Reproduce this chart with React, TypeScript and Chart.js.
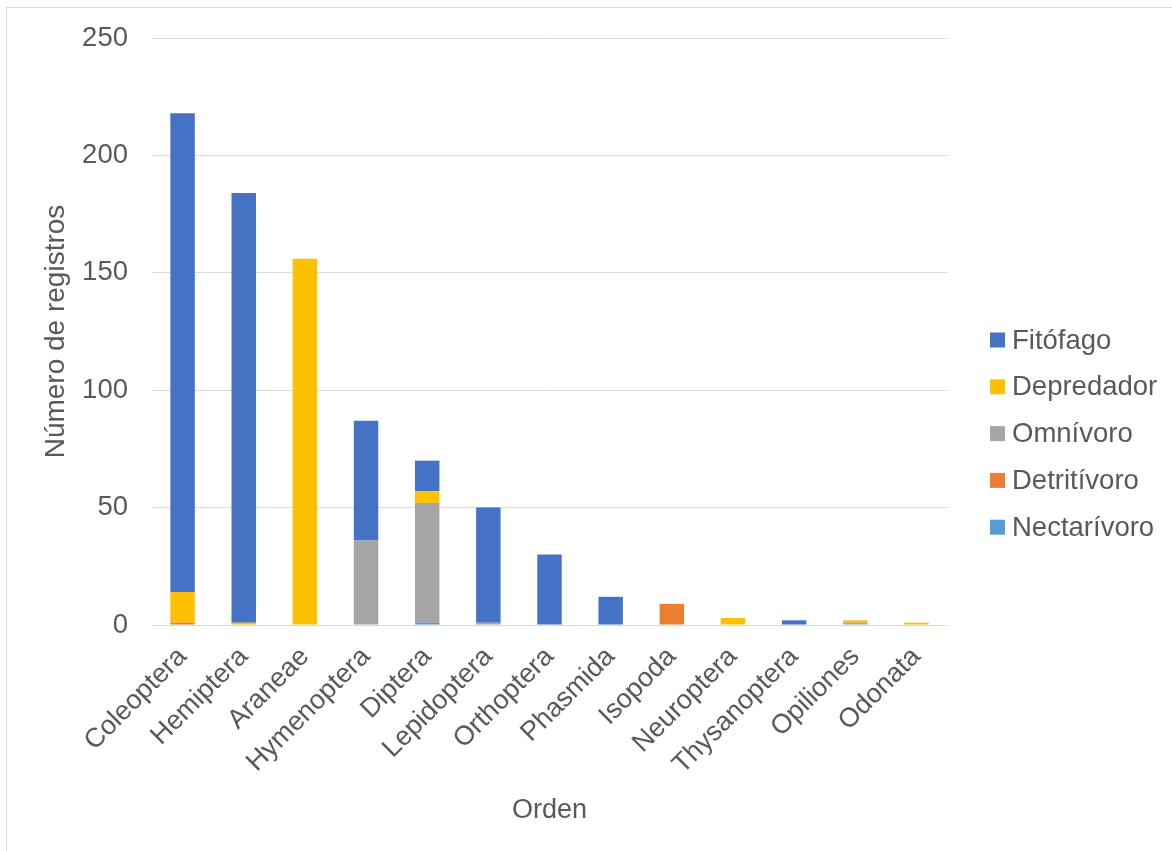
import React, { useEffect, useRef } from "react";
import { Chart, registerables } from "chart.js";

Chart.register(...registerables);

const categories = [
  "Coleoptera", "Hemiptera", "Araneae", "Hymenoptera", "Diptera", "Lepidoptera",
  "Orthoptera", "Phasmida", "Isopoda", "Neuroptera", "Thysanoptera", "Opiliones", "Odonata",
];
const nectarivoro = [0, 0, 0, 0, 1, 0, 0, 0, 0, 0, 0, 0, 0];
const detritivoro = [1, 0, 0, 0, 0, 0, 0, 0, 9, 0, 0, 0, 0];
const omnivoro = [0, 0, 0, 36, 51, 1, 0, 0, 0, 0, 0, 1, 0];
const depredador = [13, 1, 156, 0, 5, 0, 0, 0, 0, 3, 0, 1, 1];
const fitofago = [204, 183, 0, 51, 13, 49, 30, 12, 0, 0, 2, 0, 0];
const yTicks = [0, 50, 100, 150, 200, 250];

const FONT = '"Liberation Sans", Arial, sans-serif';
const TEXT = "#595959";

const legendPlugin = {
  id: "customLegend",
  afterDraw(chart: any) {
    const ctx = chart.ctx;
    const items = chart.data.datasets.slice().reverse();
    ctx.save();
    ctx.font = `27.5px ${FONT}`;
    ctx.textBaseline = "middle";
    ctx.textAlign = "left";
    const startY = 332;
    const step = 46.8;
    items.forEach((ds: any, i: number) => {
      const y = startY + i * step;
      ctx.fillStyle = ds.backgroundColor;
      ctx.fillRect(983, y - 7.5, 15, 15);
      ctx.fillStyle = TEXT;
      ctx.fillText(ds.label, 1005, y + 1);
    });
    ctx.restore();
  },
};

export default function App() {
  const ref = useRef<HTMLCanvasElement>(null);
  useEffect(() => {
    if (!ref.current) return;
    const chart = new Chart(ref.current, {
      type: "bar",
      data: {
        labels: categories,
        datasets: [
          { label: "Nectarívoro", data: nectarivoro, backgroundColor: "#5B9BD5" },
          { label: "Detritívoro", data: detritivoro, backgroundColor: "#ED7D31" },
          { label: "Omnívoro", data: omnivoro, backgroundColor: "#A5A5A5" },
          { label: "Depredador", data: depredador, backgroundColor: "#FFC000" },
          { label: "Fitófago", data: fitofago, backgroundColor: "#4472C4" },
        ],
      },
      options: {
        animation: false,
        responsive: false,
        maintainAspectRatio: false,
        layout: { padding: { top: 30, right: 224, bottom: 0, left: 0 } },
        datasets: { bar: { categoryPercentage: 1, barPercentage: 0.4, borderWidth: 0 } },
        plugins: { legend: { display: false }, tooltip: { enabled: false } },
        scales: {
          x: {
            stacked: true,
            grid: { display: false, drawTicks: false },
            border: { display: false },
            ticks: {
              color: TEXT,
              font: { size: 27, family: FONT },
              maxRotation: 45,
              minRotation: 45,
              padding: 16,
              autoSkip: false,
            },
            title: {
              display: true,
              text: "Orden",
              color: TEXT,
              font: { size: 27, family: FONT },
              padding: { top: 0, bottom: 23 },
            },
            afterFit: (s: any) => { s.height = 225; },
          },
          y: {
            stacked: true,
            min: 0,
            max: 250,
            afterBuildTicks: (s: any) => { s.ticks = yTicks.map((v) => ({ value: v })); },
            grid: { color: "#D9D9D9", lineWidth: 1, drawTicks: true, tickLength: 24, tickColor: "rgba(0,0,0,0)" },
            border: { display: false },
            ticks: { color: TEXT, font: { size: 27.5, family: FONT }, padding: 0 },
            title: {
              display: true,
              text: "Número de registros",
              color: TEXT,
              font: { size: 28, family: FONT },
              padding: { top: 32, bottom: 0 },
            },
            afterFit: (s: any) => { s.width = 145; },
          },
        },
      },
      plugins: [legendPlugin],
    });
    return () => chart.destroy();
  }, []);

  return (
    <div style={{ position: "fixed", left: 0, top: 0, width: 1172, height: 851, overflow: "hidden", background: "#fff" }}>
      <div style={{ position: "absolute", left: 6, top: 7, width: 1190, height: 870, border: "1px solid #D9D9D9", boxSizing: "border-box" }}>
        <canvas ref={ref} width={1164} height={842} style={{ display: "block" }} />
      </div>
    </div>
  );
}
